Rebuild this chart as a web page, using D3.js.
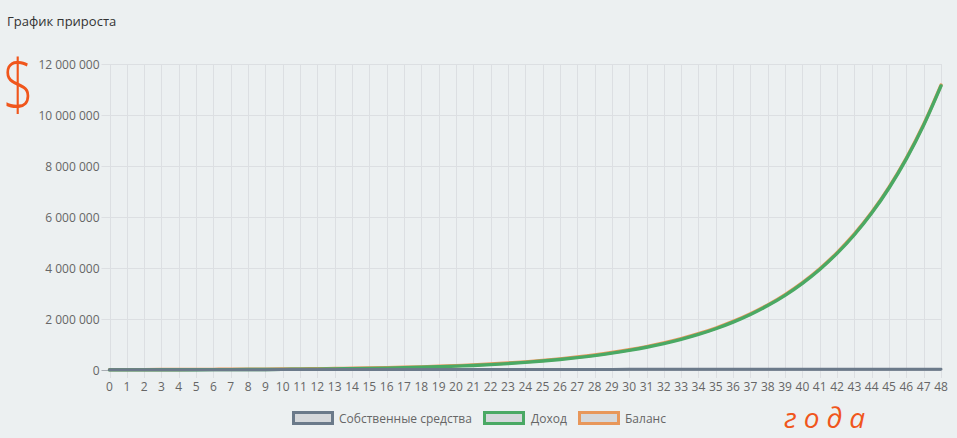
<!DOCTYPE html>
<html>
<head>
<meta charset="utf-8">
<script src="https://cdn.jsdelivr.net/npm/d3@7"></script>
<style>
  html, body { margin: 0; padding: 0; background: #ecf0f1; }
  svg { display: block; }
  text { font-family: "Open Sans", "Noto Sans", sans-serif; }
</style>
</head>
<body>
<svg id="chart" width="957" height="438"></svg>
<script>
const years = d3.range(0, 49).map(String);
const yTicks = [0, 2000000, 4000000, 6000000, 8000000, 10000000, 12000000];

const ownFunds = [10000,10500,11000,11500,12000,12500,13000,13500,14000,14500,15000,15500,16000,16500,17000,17500,18000,18500,19000,19500,20000,20500,21000,21500,22000,22500,23000,23500,24000,24500,25000,25500,26000,26500,27000,27500,28000,28500,29000,29500,30000,30500,31000,31500,32000,32500,33000,33500,34000];

const income = [3000,4200,5500,7000,8700,10600,12800,15300,18200,21500,25300,30000,36000,43000,52000,62000,74000,88000,105000,125000,150000,178000,212000,252000,298000,352000,414000,485000,566000,660000,770200,893400,1036000,1202000,1395000,1618000,1877000,2177000,2525000,2929000,3398000,3942000,4572000,5304000,6153000,7137000,8279000,9603000,11140000];

const balance = [13000,14700,16500,18500,20700,23100,25800,28800,32200,36000,40300,45500,52000,59500,69000,79500,92000,106500,124000,144500,170000,198500,233000,273500,320000,374500,437000,508500,590000,684500,795200,918900,1062000,1228500,1422000,1645500,1905000,2205500,2554000,2958500,3428000,3972500,4603000,5335500,6185000,7169500,8312000,9636500,11174000];

const seriesNames = ["Собственные средства", "Доход", "Баланс"];
const seriesColors = ["#6b7a8a", "#4aa964", "#e8975a"];
const seriesData = [ownFunds, income, balance];

(function () {
const svg = d3.select("#chart");
const pLeft = 109.5, pRight = 941, pTop = 64, pBottom = 370;

const x = d3.scaleLinear().domain([0, years.length - 1]).range([pLeft, pRight]);
const y = d3.scaleLinear().domain([0, 12000000]).range([pBottom, pTop]);

const fmt = d3.formatLocale({decimal: ",", thousands: "\u00a0", grouping: [3], currency: ["", ""]}).format(",");

svg.append("text").attr("x", 7).attr("y", 26)
  .attr("font-size", 13).attr("fill", "#333").text("График прироста");

const gx = svg.append("g");
years.forEach((yr, i) => {
  gx.append("line")
    .attr("x1", Math.round(x(i)) + 0.5).attr("x2", Math.round(x(i)) + 0.5)
    .attr("y1", pTop).attr("y2", pBottom + 8)
    .attr("stroke", "#dcdfe2").attr("stroke-width", 1);
  gx.append("text")
    .attr("x", x(i)).attr("y", pBottom + 21)
    .attr("text-anchor", "middle").attr("font-size", 12).attr("fill", "#666")
    .text(yr);
});

const gy = svg.append("g");
yTicks.forEach(v => {
  const yy = Math.round(y(v)) + 0.5;
  gy.append("line")
    .attr("x1", pLeft - 8).attr("x2", pRight)
    .attr("y1", yy).attr("y2", yy)
    .attr("stroke", v === 0 ? "#a9aeb3" : "#dcdfe2").attr("stroke-width", 1);
  gy.append("text")
    .attr("x", pLeft - 10).attr("y", yy + 4)
    .attr("text-anchor", "end").attr("font-size", 12).attr("fill", "#666")
    .text(fmt(v));
});

const line = d3.line().x((d, i) => x(i)).y(d => y(d)).curve(d3.curveMonotoneX);
for (let s = seriesData.length - 1; s >= 0; s--) {
  svg.append("path")
    .datum(seriesData[s])
    .attr("d", line)
    .attr("fill", "none")
    .attr("stroke", seriesColors[s])
    .attr("stroke-width", s === 0 ? 3 : 3.4)
    .attr("stroke-linejoin", "round")
    .attr("stroke-linecap", "round");
}

const legendItems = [
  {x: 292, tx: 339},
  {x: 483, tx: 531},
  {x: 578, tx: 625}
];
seriesNames.forEach((name, i) => {
  const g = svg.append("g");
  g.append("rect")
    .attr("x", legendItems[i].x + 1.5).attr("y", 412.5)
    .attr("width", 39).attr("height", 11)
    .attr("fill", "#d5d8db").attr("stroke", seriesColors[i]).attr("stroke-width", 3);
  g.append("text")
    .attr("x", legendItems[i].tx).attr("y", 422.5)
    .attr("font-size", 12).attr("fill", "#666").text(name);
});

svg.append("text")
  .attr("transform", "translate(3,110) scale(1,1.3)")
  .attr("font-family", "DejaVu Sans").attr("font-weight", 200)
  .attr("font-size", 54).attr("fill", "#f0561c").text("$");
svg.append("text").attr("x", 784).attr("y", 428)
  .attr("font-family", "DejaVu Sans").attr("font-style", "italic")
  .attr("font-size", 28).attr("fill", "#f0561c").attr("letter-spacing", 7).text("года");
})();
</script>
</body>
</html>
